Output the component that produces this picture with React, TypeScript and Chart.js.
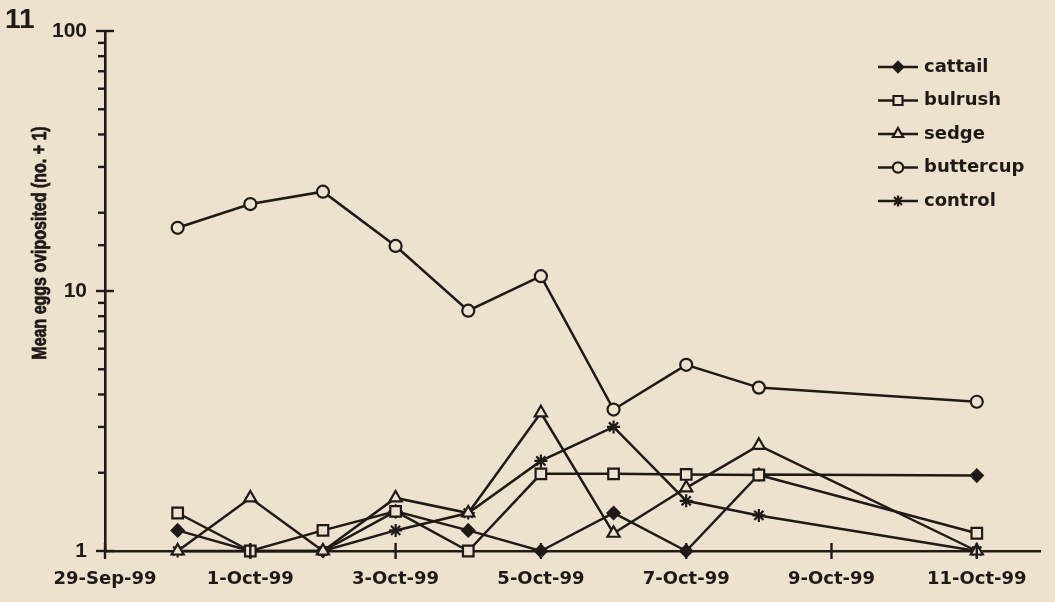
import React, { useEffect, useRef } from 'react';
import { Chart, registerables } from 'chart.js';
import { drawPoint } from 'chart.js/helpers';

Chart.register(...registerables);

// ---- data ----
const dayLabels = ['30-Sep', '1-Oct', '2-Oct', '3-Oct', '4-Oct', '5-Oct', '6-Oct', '7-Oct', '8-Oct', '11-Oct'];
const dayOffsets = [1, 2, 3, 4, 5, 6, 7, 8, 9, 12]; // days after 29-Sep-99
const cattail = [1.2, 1.0, 1.0, 1.42, 1.2, 1.0, 1.4, 1.0, 1.97, 1.95];
const bulrush = [1.4, 1.0, 1.2, 1.42, 1.0, 1.98, 1.98, 1.97, 1.96, 1.17];
const sedge = [1.0, 1.6, 1.0, 1.6, 1.4, 3.4, 1.17, 1.75, 2.55, 1.0];
const buttercup = [17.5, 21.6, 24.1, 14.9, 8.4, 11.4, 3.5, 5.2, 4.25, 3.75];
const control = [1.0, 1.0, 1.0, 1.2, 1.4, 2.22, 3.0, 1.56, 1.37, 1.0];
const seriesNames = ['cattail', 'bulrush', 'sedge', 'buttercup', 'control'];
const seriesValues = [cattail, bulrush, sedge, buttercup, control];
const xTickValues = [0, 2, 4, 6, 8, 10, 12];
const xTickLabels = ['29-Sep-99', '1-Oct-99', '3-Oct-99', '5-Oct-99', '7-Oct-99', '9-Oct-99', '11-Oct-99'];
const yTitle = 'Mean eggs oviposited (no. + 1)';
const figureNumber = '11';

// ---- styles ----
const INK = '#1f1a16';
const PAPER = '#ece2cd';
const markerStyles = [
  { pointStyle: 'rectRot', radius: 6, filled: true, order: 4 },
  { pointStyle: 'rect', radius: 7.5, filled: false, order: 0 },
  { pointStyle: 'triangle', radius: 7, filled: false, order: 1 },
  { pointStyle: 'circle', radius: 6, filled: false, order: 3 },
  { pointStyle: 'star', radius: 6.5, filled: false, order: 2 },
];

const isMajor = (v: number) => Math.abs(Math.log10(v) - Math.round(Math.log10(v))) < 1e-6;

const decorPlugin = {
  id: 'decor',
  beforeDraw(chart: any) {
    const { ctx, width, height } = chart;
    ctx.save();
    ctx.fillStyle = PAPER;
    ctx.fillRect(0, 0, width, height);
    ctx.restore();
  },
  afterDraw(chart: any) {
    const ctx = chart.ctx;
    const xs = chart.scales.x;
    const ys = chart.scales.y;
    const area = chart.chartArea;
    ctx.save();
    ctx.strokeStyle = INK;
    ctx.lineWidth = 2.4;
    // y ticks
    ys.ticks.forEach((t: any) => {
      const py = ys.getPixelForValue(t.value);
      const major = isMajor(t.value);
      ctx.beginPath();
      ctx.moveTo(area.left - (major ? 9 : 7), py);
      ctx.lineTo(area.left + (major ? 9 : 0), py);
      ctx.stroke();
    });
    // x ticks
    xs.ticks.forEach((t: any) => {
      const px = xs.getPixelForValue(t.value);
      ctx.beginPath();
      ctx.moveTo(px, area.bottom - 8);
      ctx.lineTo(px, area.bottom + 8);
      ctx.stroke();
    });

    // legend
    chart.data.datasets.forEach((ds: any, i: number) => {
      const yy = 67 + i * 33.5;
      const m = markerStyles[i];
      ctx.strokeStyle = INK;
      ctx.lineWidth = 2.5;
      ctx.beginPath();
      ctx.moveTo(878, yy);
      ctx.lineTo(918, yy);
      ctx.stroke();
      ctx.fillStyle = m.filled ? INK : PAPER;
      ctx.lineWidth = 2.2;
      drawPoint(ctx, { pointStyle: m.pointStyle as any, radius: m.radius * 0.85, borderWidth: 2.2, rotation: 0 } as any, 898, yy);
      ctx.fillStyle = INK;
      ctx.font = 'bold 18px "DejaVu Sans"';
      ctx.textAlign = 'left';
      ctx.textBaseline = 'middle';
      ctx.fillText(ds.label, 924, yy);
    });

    // figure number
    ctx.fillStyle = INK;
    ctx.font = 'bold 28px "Liberation Sans"';
    ctx.textAlign = 'left';
    ctx.textBaseline = 'alphabetic';
    ctx.fillText(figureNumber, 5, 28);

    // y axis title
    ctx.save();
    ctx.translate(40, 243);
    ctx.scale(1.28, 1);
    ctx.rotate(-Math.PI / 2);
    ctx.font = 'bold 16px "Liberation Sans"';
    ctx.textAlign = 'center';
    ctx.textBaseline = 'middle';
    ctx.fillStyle = INK;
    ctx.strokeStyle = INK;
    ctx.lineWidth = 0.6;
    ctx.fillText(yTitle, 0, 0);
    ctx.strokeText(yTitle, 0, 0);
    ctx.restore();

    ctx.restore();
  },
};

export default function App() {
  const ref = useRef<HTMLCanvasElement>(null);
  useEffect(() => {
    const datasets = seriesNames.map((name, i) => ({
      label: name,
      data: dayOffsets.map((d, j) => ({ x: d, y: seriesValues[i][j] })),
      borderColor: INK,
      borderWidth: 2.5,
      tension: 0,
      fill: false,
      clip: false as any,
      pointStyle: markerStyles[i].pointStyle as any,
      pointRadius: markerStyles[i].radius,
      pointBorderWidth: 2.2,
      pointBorderColor: INK,
      pointBackgroundColor: markerStyles[i].filled ? INK : PAPER,
      order: markerStyles[i].order,
    }));
    const chart = new Chart(ref.current as HTMLCanvasElement, {
      type: 'line',
      data: { labels: dayLabels, datasets },
      options: {
        responsive: false,
        animation: false,
        devicePixelRatio: 1,
        layout: { padding: { top: 31, right: 15, bottom: 0, left: 0 } },
        plugins: { legend: { display: false }, tooltip: { enabled: false } },
        scales: {
          x: {
            type: 'linear',
            min: 0,
            max: 12.87,
            afterBuildTicks: (s: any) => {
              s.ticks = xTickValues.map((v) => ({ value: v }));
            },
            afterFit: (s: any) => {
              s.height = 51;
            },
            ticks: {
              autoSkip: false,
              maxRotation: 0,
              padding: 18,
              color: INK,
              font: { family: 'DejaVu Sans', size: 18, weight: 'bold' },
              callback: (v: any) => {
                const k = xTickValues.indexOf(Number(v));
                return k >= 0 ? xTickLabels[k] : '';
              },
            },
            grid: { display: false, drawTicks: false },
            border: { display: true, color: INK, width: 2.6 },
          },
          y: {
            type: 'logarithmic',
            min: 1,
            max: 100,
            afterFit: (s: any) => {
              s.width = 105;
            },
            ticks: {
              autoSkip: false,
              padding: 18,
              color: INK,
              font: { family: 'Liberation Sans', size: 21, weight: 'bold' },
              callback: (v: any) => (isMajor(Number(v)) ? String(Math.round(Number(v))) : ''),
            },
            grid: { display: false, drawTicks: false },
            border: { display: true, color: INK, width: 2.6 },
          },
        },
      },
      plugins: [decorPlugin],
    } as any);
    return () => chart.destroy();
  }, []);

  return (
    <div style={{ position: 'fixed', left: 0, top: 0, width: 1055, height: 602, background: PAPER }}>
      <canvas ref={ref} width={1055} height={602} style={{ display: 'block', width: 1055, height: 602 }} />
    </div>
  );
}
